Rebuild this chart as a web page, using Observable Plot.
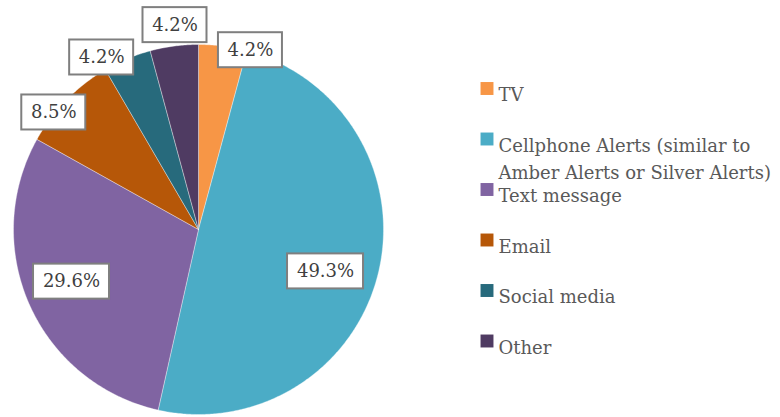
<!DOCTYPE html>
<html>
<head>
<meta charset="utf-8">
<script src="https://cdn.jsdelivr.net/npm/d3@7"></script>
<script src="https://cdn.jsdelivr.net/npm/@observablehq/plot@0.6"></script>
<style>
  html, body { margin: 0; padding: 0; background: #fff; }
  #chart { width: 780px; height: 417px; }
</style>
</head>
<body>
<div id="chart"></div>
<script>
// ---- data ----
const categories = ["TV", "Cellphone Alerts (similar to\nAmber Alerts or Silver Alerts)", "Text message", "Email", "Social media", "Other"];
const values = [4.2, 49.3, 29.6, 8.5, 4.2, 4.2];
const valueLabels = ["4.2%", "49.3%", "29.6%", "8.5%", "4.2%", "4.2%"];
const colors = ["#F79646", "#4BACC6", "#8064A2", "#B65708", "#276A7C", "#4F3B62"];

// ---- layout (pixels) ----
const W = 780, H = 417, CX = 198, CY = 229, R = 185;
const labelRadius = [1.009, 0.723, 0.742, 1.006, 1.067, 1.112];   // fraction of radius
const labelShift = [8.6, 4.4, 1.8, -5.5, -6.7, 1.0];              // degrees from slice mid-angle
const legendX = 486.5, legendTop = 88, legendStep = 50.5;
const FONT = "DejaVu Serif";

const px = (p) => (p - CX) / R;
const py = (p) => (CY - p) / R;
const rad = (deg) => deg * Math.PI / 180;

// ---- slices ----
const total = d3.sum(values);
let acc = 0;
const slices = values.map((v, i) => {
  const a0 = acc / total * 360;
  acc += v;
  const a1 = acc / total * 360;
  return {i, a0, a1, mid: (a0 + a1) / 2};
});
const polys = slices.map(s => {
  const pts = [{x: 0, y: 0}];
  const n = Math.max(2, Math.ceil((s.a1 - s.a0) / 0.5));
  for (let k = 0; k <= n; k++) {
    const a = rad(s.a0 + (s.a1 - s.a0) * k / n);
    pts.push({x: Math.sin(a), y: Math.cos(a)});
  }
  pts.push({x: 0, y: 0});
  return pts;
});

// ---- labels ----
const labels = slices.map(s => {
  const a = rad(s.mid + labelShift[s.i]);
  const r = labelRadius[s.i];
  const text = valueLabels[s.i];
  const hw = (text.length > 4 ? 38 : 32) / R;
  const hh = 17.5 / R;
  const x = Math.sin(a) * r, y = Math.cos(a) * r;
  return {x, y, text, x1: x - hw, x2: x + hw, y1: y - hh, y2: y + hh};
});

// ---- legend ----
const legend = categories.map((c, i) => ({
  x: px(legendX),
  y: py(legendTop + legendStep * i),
  label: c,
  color: colors[i]
}));

const marks = [];
polys.forEach((pts, i) => {
  marks.push(Plot.line(pts, {x: "x", y: "y", fill: colors[i], stroke: "#ffffff", strokeWidth: 0.6, strokeOpacity: 0.6, curve: "linear"}));
});
marks.push(Plot.rect(labels, {x1: "x1", x2: "x2", y1: "y1", y2: "y2", fill: "#ffffff", stroke: "#7f7f7f", strokeWidth: 2}));
marks.push(Plot.text(labels, {x: "x", y: "y", text: "text", fontSize: 18, fontFamily: FONT, fill: "#404040"}));
marks.push(Plot.dot(legend, {x: "x", y: "y", symbol: "square", r: 7.3, fill: "color", stroke: null}));
marks.push(Plot.text(legend, {x: "x", y: "y", text: "label", textAnchor: "start", dx: 11.5, lineAnchor: "top", dy: -6.5, lineHeight: 1.5, fontSize: 18, fontFamily: FONT, fill: "#595959"}));

const chart = Plot.plot({
  width: W,
  height: H,
  margin: 0,
  x: {domain: [px(0), px(W)], range: [0, W], axis: null},
  y: {domain: [py(H), py(0)], range: [H, 0], axis: null},
  color: {type: "identity"},
  marks
});
document.getElementById("chart").appendChild(chart);
</script>
</body>
</html>
